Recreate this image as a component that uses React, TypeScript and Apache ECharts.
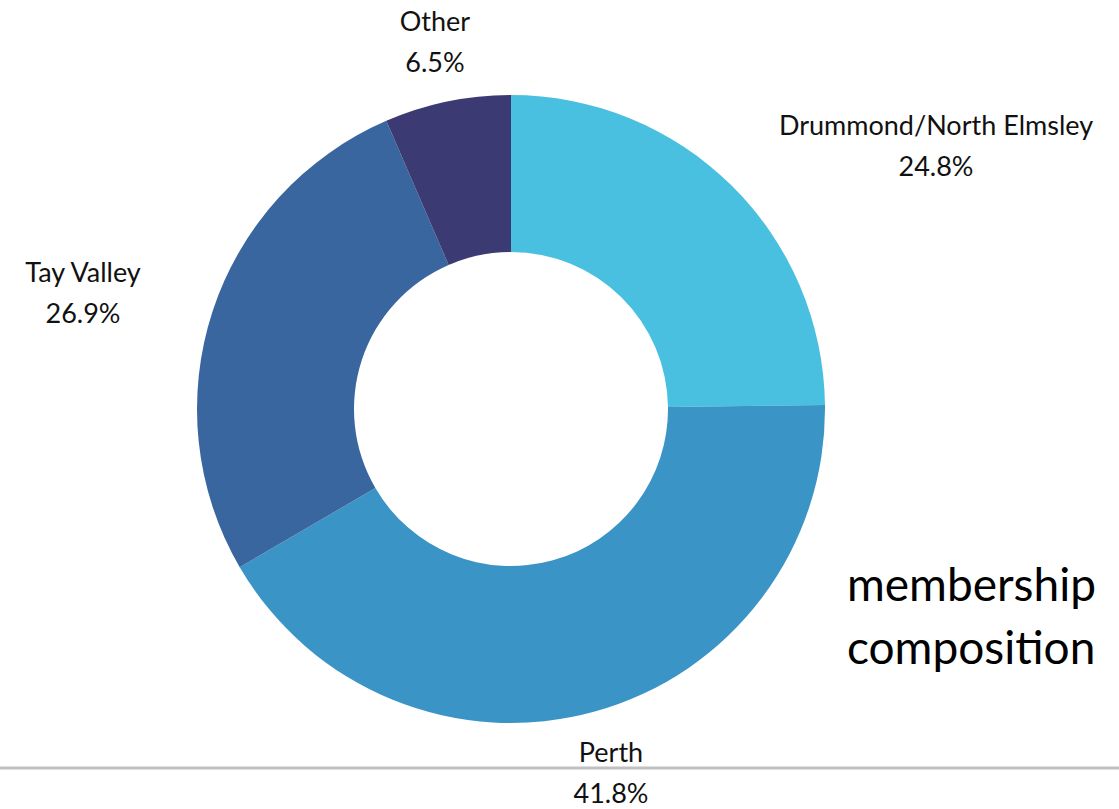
import React, { useEffect, useRef } from "react";
import * as echarts from "echarts";

const categories = ["Drummond/North Elmsley", "Perth", "Tay Valley", "Other"];
const values = [24.8, 41.8, 26.9, 6.5];
const colors = ["#4AC0E0", "#3B94C6", "#3A66A0", "#3C3A73"];
const titleLines = ["membership", "composition"];

const FONT = "Lato, 'Noto Sans', sans-serif";
// label centres (x, y) per slice
const labelCentres: [number, number][] = [
  [936, 145],
  [611, 772],
  [83, 292],
  [435, 41],
];

export default function App() {
  const ref = useRef<HTMLDivElement>(null);
  useEffect(() => {
    if (!ref.current) return;
    const chart = echarts.init(ref.current, undefined, { renderer: "svg" });
    chart.setOption({
      animation: false,
      backgroundColor: "#ffffff",
      series: [
        {
          type: "pie",
          center: [511, 409],
          radius: [157, 314],
          startAngle: 90,
          clockwise: true,
          data: categories.map((name, i) => ({
            name,
            value: values[i],
            itemStyle: { color: colors[i] },
          })),
          label: {
            show: true,
            position: "outside",
            formatter: (p: any) => `${p.name}\n${p.value}%`,
            fontFamily: FONT,
            fontSize: 27,
            lineHeight: 41,
            color: "#111111",
            align: "center",
          },
          labelLine: { show: false },
          labelLayout: (params: any) => {
            const c = labelCentres[params.dataIndex];
            return {
              x: c[0],
              y: c[1],
              align: "center",
              verticalAlign: "middle",
            };
          },
          emphasis: { disabled: true },
        },
      ],
      graphic: [
        {
          type: "line",
          z: -1,
          shape: { x1: 0, y1: 768, x2: 1119, y2: 768 },
          style: { stroke: "#c0c0c0", lineWidth: 3 },
        },
        {
          type: "text",
          right: 23,
          top: 552,
          style: {
            text: titleLines.join("\n"),
            font: `46px ${FONT}`,
            lineHeight: 63,
            fill: "#000000",
            align: "right",
          },
        },
      ],
    });
    return () => chart.dispose();
  }, []);
  return (
    <div
      ref={ref}
      style={{ position: "fixed", left: 0, top: 0, width: 1119, height: 809 }}
    />
  );
}
